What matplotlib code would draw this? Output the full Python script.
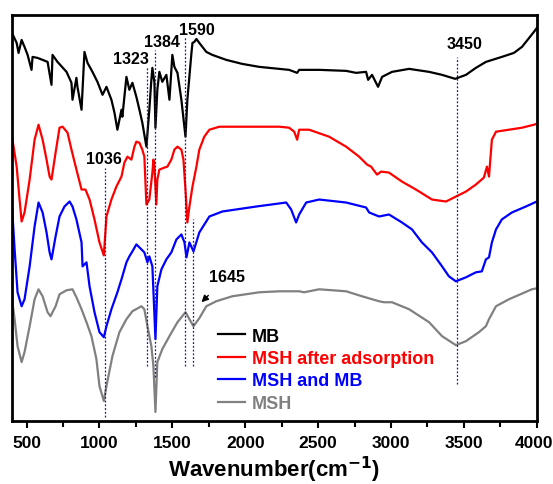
import numpy as np
import matplotlib
matplotlib.use('Agg')
import matplotlib.pyplot as plt
import matplotlib.transforms as mtransforms
from matplotlib.ticker import MultipleLocator

plt.rcParams['font.family'] = ['Liberation Sans', 'DejaVu Sans']
plt.rcParams['font.weight'] = 'bold'

# spectra, offset vertically (arbitrary units)
mb_w = [400, 432, 445, 466, 486, 507, 534, 541, 575, 610, 644, 671, 678, 712, 774, 808, 815, 842,
        849, 877, 897, 918, 952, 986, 1021, 1048, 1082, 1103, 1123, 1151, 1157, 1185, 1205, 1226,
        1253, 1274, 1294, 1322, 1342, 1356, 1363, 1377, 1384, 1397, 1411, 1431, 1459, 1480, 1500,
        1514, 1535, 1562, 1590, 1603, 1631, 1638, 1651, 1665, 1685, 1733, 1774, 1870, 1979, 2096,
        2233, 2301, 2356, 2370, 2507, 2692, 2760, 2829, 2843, 2870, 2911, 2939, 3007, 3124, 3261,
        3350, 3440, 3514, 3582, 3651, 3760, 3843, 3898, 3980, 4000]
mb_y = [389, 379, 369, 382, 375, 367, 352, 365, 364, 362, 360, 337, 367, 360, 350, 339, 322, 344,
        335, 312, 370, 359, 350, 340, 327, 335, 322, 309, 292, 312, 305, 345, 332, 339,
        325, 312, 299, 275, 312, 342, 354, 339, 294, 332, 350, 340, 347, 322, 367,
        355, 349, 322, 285, 322, 369, 379, 380, 383, 379, 370, 367, 362, 358, 355,
        353, 352, 349, 352, 352, 351, 349, 350, 342, 347, 335, 345, 350, 353, 350,
        347, 343, 347, 354, 360, 365, 369, 375, 390, 394]

ads_w = [400, 432, 452, 466, 486, 521, 555, 582, 610, 637, 658, 671, 699, 726, 747, 781, 808, 842,
         877, 904, 932, 966, 1000, 1030, 1048, 1082, 1116, 1151, 1171, 1192, 1219, 1240, 1253, 1274,
         1294, 1308, 1322, 1342, 1363, 1370, 1377, 1390, 1397, 1411, 1445, 1466, 1493, 1514, 1535,
         1562, 1576, 1590, 1603, 1617, 1638, 1665, 1685, 1719, 1754, 1822, 2233, 2301, 2336, 2356,
         2370, 2438, 2575, 2692, 2781, 2836, 2863, 2904, 2932, 2986, 3075, 3171, 3281, 3377, 3432,
         3514, 3582, 3637, 3658, 3672, 3692, 3720, 3809, 3898, 3980, 4000]
ads_y = [285, 255, 222, 200, 209, 242, 282, 297, 282, 262, 245, 242, 269, 294, 295, 289, 272, 252,
         232, 232, 222, 202, 179, 166, 205, 222, 235, 245, 259, 265, 262, 275, 280, 279,
         272, 265, 217, 222, 249, 262, 255, 217, 242, 252, 254, 255, 262, 272, 275,
         272, 262, 232, 199, 215, 235, 255, 272, 285, 292, 295, 295, 294, 290, 282,
         292, 292, 285, 275, 265, 257, 255, 247, 250, 249, 240, 232, 222, 220, 224,
         230, 237, 244, 255, 245, 282, 290, 292, 294, 297, 298]

msh_mb_w = [400, 418, 438, 466, 486, 521, 555, 582, 610, 637, 658, 671, 699, 726, 760, 795, 815, 842,
            877, 884, 911, 932, 966, 1000, 1030, 1048, 1082, 1123, 1151, 1185, 1205, 1226, 1253,
            1274, 1308, 1329, 1342, 1363, 1384, 1397, 1425, 1459, 1493, 1528, 1562, 1583, 1597,
            1617, 1645, 1685, 1754, 1843, 2076, 2281, 2315, 2349, 2370, 2418, 2507, 2692, 2829,
            2850, 2918, 2986, 3075, 3144, 3212, 3281, 3350, 3397, 3445, 3514, 3582, 3623, 3651,
            3672, 3692, 3720, 3760, 3829, 3925, 4000]
msh_mb_y = [215, 172, 129, 115, 122, 155, 195, 219, 209, 189, 169, 162, 185, 205, 215, 220, 215, 202,
            179, 155, 159, 135, 109, 89, 84, 95, 112, 129, 142, 159, 165, 170, 177,
            174, 169, 159, 165, 155, 82, 135, 152, 162, 169, 182, 187, 179, 164,
            179, 170, 189, 205, 210, 215, 219, 212, 199, 207, 219, 222, 219, 214,
            209, 205, 207, 199, 192, 179, 169, 155, 145, 140, 144, 149, 150, 162,
            164, 179, 192, 202, 209, 215, 220]

msh_w = [400, 418, 438, 466, 486, 521, 555, 582, 610, 644, 664, 699, 726, 774, 815, 842, 877, 911,
         945, 979, 1000, 1030, 1048, 1089, 1137, 1185, 1226, 1288, 1308, 1329, 1356, 1370, 1384,
         1397, 1431, 1480, 1535, 1590, 1617, 1645, 1685, 1733, 1801, 1911, 2096, 2233, 2370, 2404,
         2507, 2692, 2801, 2918, 2952, 3007, 3124, 3261, 3350, 3445, 3514, 3603, 3651, 3672, 3720,
         3809, 3966, 4000]
msh_y = [122, 102, 75, 59, 69, 95, 122, 132, 125, 109, 105, 115, 127, 131, 132, 124, 112, 99,
         85, 62, 35, 20, 35, 65, 89, 102, 110, 115, 112, 95, 75, 55, 9,
         59, 72, 85, 99, 109, 102, 95, 103, 115, 120, 125, 129, 130, 130, 129,
         132, 130, 125, 120, 119, 119, 112, 99, 85, 76, 80, 89, 95, 102, 115,
         122, 132, 133]

series = [('MB', mb_w, mb_y, 'black'),
          ('MSH after adsorption', ads_w, ads_y, '#ff0000'),
          ('MSH and MB', msh_mb_w, msh_mb_y, '#0000ff'),
          ('MSH', msh_w, msh_y, '#808080')]

# marked peaks: position, line bottom, line top, label x, label y
peak_pos = [1036, 1323, 1384, 1590, 1645, 3450]
peak_lo = [4, 55, 44, 55, 55, 37]
peak_hi = [254, 355, 372, 385, 202, 365]
peak_lab_x = [1028, 1219, 1431, 1665, None, 3507]
peak_lab_y = [263, 363, 380, 392, None, 378]

x_ticks = [500, 1000, 1500, 2000, 2500, 3000, 3500, 4000]

fig = plt.figure(figsize=(5.53, 4.85), dpi=100)
ax = fig.add_axes([0.0217, 0.130, 0.949, 0.837])

for name, w, y, c in series:
    ax.plot(w, y, color=c, lw=1.6, label=name)

for p, lo, hi, lx, ly in zip(peak_pos, peak_lo, peak_hi, peak_lab_x, peak_lab_y):
    ax.plot([p, p], [lo, hi], color='#1a1a8c', lw=0.9, ls=(0, (1.5, 1.5)))
    if ly is not None:
        ax.text(lx, ly, str(p), ha='center', va='center', fontsize=11.5, fontweight='bold')

ax.annotate('1645', xy=(1700, 119), xytext=(1878, 145), ha='center', va='center',
            fontsize=11.5, fontweight='bold',
            arrowprops=dict(arrowstyle='-|>', color='black', lw=1, mutation_scale=10,
                            shrinkA=9, shrinkB=0))

ax.set_xlim(400, 4000)
ax.set_ylim(0, 407)
ax.set_yticks([])
ax.set_xticks(x_ticks)
ax.set_xticklabels([str(t) for t in x_ticks[:-1]] + [''], fontweight='bold')
ax.xaxis.set_minor_locator(MultipleLocator(250))
ax.tick_params(axis='x', which='major', direction='out', length=5, width=1.5, labelsize=12.5, pad=5)
ax.tick_params(axis='x', which='minor', direction='out', length=4, width=1.5)
for s in ax.spines.values():
    s.set_linewidth(2)

# last tick label, nudged left so it stays inside the figure
shift = mtransforms.ScaledTranslation(-3 / 100, -10 / 72, fig.dpi_scale_trans)
ax.text(x_ticks[-1], 0, str(x_ticks[-1]), transform=ax.get_xaxis_transform() + shift,
        ha='center', va='top', fontsize=12.5, fontweight='bold')

ax.set_xlabel('Wavenumber(cm$^{\\mathbf{-1}}$)', fontsize=16, fontweight='bold', labelpad=3)

leg = ax.legend(loc='upper left', bbox_to_anchor=(0.392, 0.230), frameon=False,
                prop={'weight': 'bold', 'size': 13}, labelcolor='linecolor',
                handlelength=1.5, handletextpad=0.4, labelspacing=0.3,
                borderaxespad=0, borderpad=0)

fig.savefig('out.png', dpi=100)
